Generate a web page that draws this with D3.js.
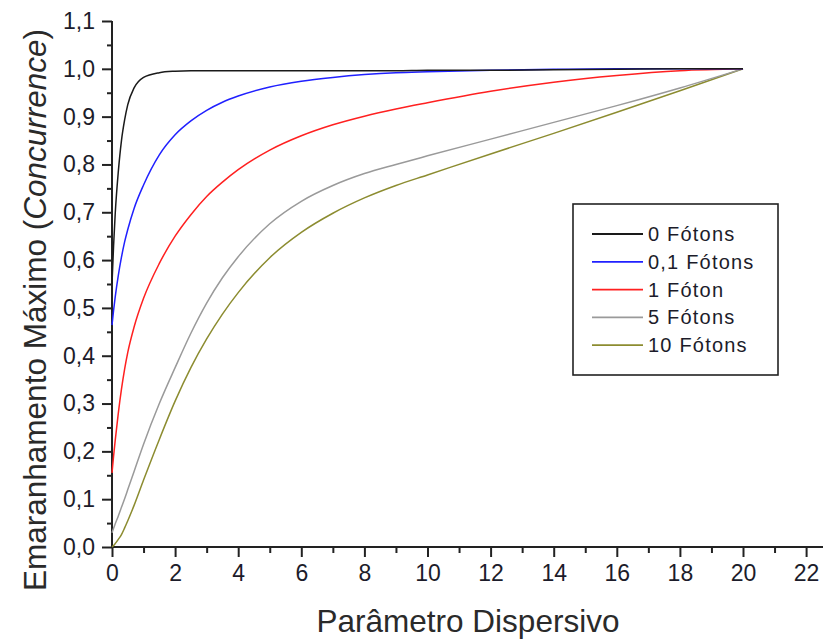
<!DOCTYPE html>
<html>
<head>
<meta charset="utf-8">
<script src="https://cdn.jsdelivr.net/npm/d3@7"></script>
<style>
  html, body { margin: 0; padding: 0; background: #fff; }
  svg { display: block; font-family: "Liberation Sans", Arial, sans-serif; }
</style>
</head>
<body>
<svg id="chart" width="823" height="641"></svg>
<script>
// Dispersive parameter sample points shared by every curve
const dispersion = [0, 0.05, 0.1, 0.2, 0.3, 0.4, 0.5, 0.7, 1, 1.5, 2, 2.5, 3, 3.5, 4, 5, 6, 7, 8, 9, 10, 12, 14, 16, 18, 20];

// Maximum entanglement (concurrence) for each photon number
const photons0  = [0.55, 0.63, 0.695, 0.785, 0.85, 0.893, 0.925, 0.96, 0.982, 0.992, 0.995, 0.996, 0.996, 0.996, 0.996, 0.996, 0.996, 0.996, 0.996, 0.996, 0.997, 0.997, 0.998, 0.999, 1.0, 1.0];
const photons01 = [0.464, 0.495, 0.522, 0.568, 0.606, 0.638, 0.664, 0.708, 0.757, 0.82, 0.862, 0.891, 0.913, 0.93, 0.943, 0.962, 0.974, 0.982, 0.988, 0.992, 0.994, 0.997, 0.999, 1.0, 1.0, 1.0];
const photons1  = [0.155, 0.19, 0.222, 0.28, 0.33, 0.372, 0.407, 0.46, 0.52, 0.593, 0.65, 0.695, 0.733, 0.763, 0.789, 0.83, 0.86, 0.883, 0.901, 0.916, 0.929, 0.953, 0.972, 0.986, 0.996, 1.0];
const photons5  = [0.03, 0.039, 0.048, 0.065, 0.083, 0.101, 0.12, 0.158, 0.215, 0.30, 0.375, 0.447, 0.51, 0.563, 0.607, 0.676, 0.723, 0.756, 0.781, 0.80, 0.818, 0.853, 0.888, 0.923, 0.96, 1.0];
const photons10 = [0.0, 0.003, 0.007, 0.016, 0.026, 0.04, 0.055, 0.087, 0.14, 0.225, 0.305, 0.375, 0.435, 0.487, 0.532, 0.605, 0.658, 0.698, 0.73, 0.756, 0.778, 0.822, 0.865, 0.909, 0.954, 1.0];

const seriesNames  = ["0 Fótons", "0,1 Fótons", "1 Fóton", "5 Fótons", "10 Fótons"];
const seriesValues = [photons0, photons01, photons1, photons5, photons10];
const seriesColors = ["#1a1a1a", "#2020ff", "#ff2020", "#9a9a9a", "#8c8c30"];

// Axis tick values
const xTicks = [0, 2, 4, 6, 8, 10, 12, 14, 16, 18, 20, 22];
const yTicks = [0, 0.1, 0.2, 0.3, 0.4, 0.5, 0.6, 0.7, 0.8, 0.9, 1.0, 1.1];
const xMinorTicks = d3.range(1, 23, 2);
const yMinorTicks = d3.range(0.05, 1.1, 0.1);

const svg = d3.select("#chart");
const x = d3.scaleLinear().domain([0, 23]).range([112, 837.65]);
const y = d3.scaleLinear().domain([0, 1.1]).range([547, 21]);
const fmt = v => d3.format(".1f")(v).replace(".", ",");

// Y axis with major and minor ticks
const yAxis = svg.append("g").attr("transform", `translate(${x(0)},0)`);
yAxis.call(d3.axisLeft(y).tickValues(yTicks).tickFormat(fmt).tickSize(10).tickPadding(7));
yAxis.append("g").call(d3.axisLeft(y).tickValues(yMinorTicks).tickFormat("").tickSize(5))
  .select(".domain").remove();

// X axis with major and minor ticks
const xAxis = svg.append("g").attr("transform", `translate(0,${y(0)})`);
xAxis.call(d3.axisBottom(x).tickValues(xTicks).tickFormat(d3.format("d")).tickSize(10).tickPadding(8));
xAxis.append("g").call(d3.axisBottom(x).tickValues(xMinorTicks).tickFormat("").tickSize(6))
  .select(".domain").remove();

// Axis lines run from the origin to the top / right of the plot
yAxis.select(".domain").attr("d", `M0,${y(1.1)}V${y(0)}`);
xAxis.select(".domain").attr("d", `M${x(0)},0H${x(23)}`);
svg.selectAll(".domain").attr("stroke", "#222").attr("stroke-width", 2);
svg.selectAll(".tick line").attr("stroke", "#222").attr("stroke-width", 2);
svg.selectAll(".tick text").attr("fill", "#1c1c2a").style("font-size", "23px")
  .style("font-family", "'Liberation Sans', Arial, sans-serif");

// Curves
const line = d3.line()
  .x((d, i) => x(dispersion[i]))
  .y(d => y(d))
  .curve(d3.curveMonotoneX);

svg.append("g").selectAll("path")
  .data(seriesValues.map((v, i) => ({ v, c: seriesColors[i] })).reverse())
  .join("path")
  .attr("d", d => line(d.v))
  .attr("fill", "none")
  .attr("stroke", d => d.c)
  .attr("stroke-width", 1.5);

// Axis titles
svg.append("text")
  .attr("x", 468).attr("y", 632)
  .attr("text-anchor", "middle")
  .attr("fill", "#2a2a2a")
  .style("font-size", "31.5px")
  .text("Parâmetro Dispersivo");

const yTitle = svg.append("text")
  .attr("transform", "translate(46,310) rotate(-90)")
  .attr("text-anchor", "middle")
  .attr("fill", "#2a2a2a")
  .style("font-size", "31.5px");
yTitle.append("tspan").text("Emaranhamento Máximo (");
yTitle.append("tspan").style("font-style", "italic").text("Concurrence");
yTitle.append("tspan").text(")");

// Legend
const legend = svg.append("g");
legend.append("rect")
  .attr("x", 573).attr("y", 204).attr("width", 205).attr("height", 171)
  .attr("fill", "#fff").attr("stroke", "#222").attr("stroke-width", 1.6);
const rows = legend.selectAll("g.row")
  .data(seriesNames)
  .join("g")
  .attr("class", "row")
  .attr("transform", (d, i) => `translate(0,${234 + i * 27.8})`);
rows.append("line")
  .attr("x1", 592).attr("x2", 643)
  .attr("stroke", (d, i) => seriesColors[i])
  .attr("stroke-width", 1.8);
rows.append("text")
  .attr("x", 648).attr("y", 7)
  .attr("fill", "#1c1c2a")
  .style("font-size", "20px")
  .style("letter-spacing", "1.2px")
  .text(d => d);
</script>
</body>
</html>
